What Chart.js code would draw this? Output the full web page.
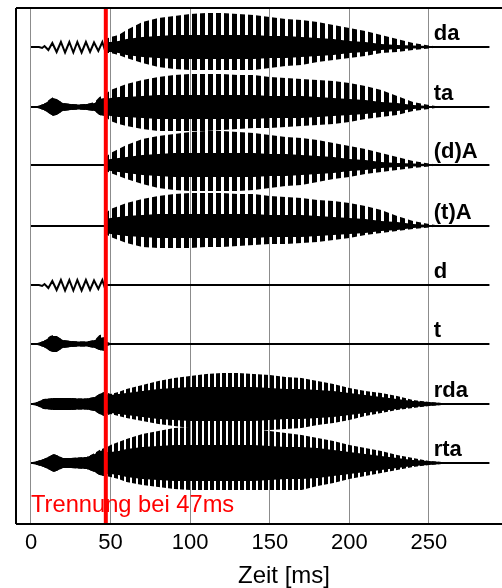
<!DOCTYPE html>
<html>
<head>
<meta charset="utf-8">
<script src="https://cdn.jsdelivr.net/npm/chart.js@4.4.0/dist/chart.umd.min.js"></script>
<style>
  html, body { margin: 0; padding: 0; background: #fff; overflow: hidden; }
  #wrap { width: 552px; height: 588px; }
</style>
</head>
<body>
<div id="wrap"><canvas id="waveChart" width="552" height="588"></canvas></div>
<script>
// trace names, top to bottom
const traceNames = ['da', 'ta', '(d)A', '(t)A', 'd', 't', 'rda', 'rta'];
const xTicks = [0, 50, 100, 150, 200, 250];
const cutTime = 47;

// small sinusoid before the cut (da and d share it), time in ms, amplitude
const wigT = [0, 5, 7, 8.5, 10.9, 13.4, 16.1, 18.8, 21.4, 24.1, 26.6, 29.1, 31.8, 34.5, 37.1, 39.6, 42.3, 44.8, 46.2, 47, 288];
const wigV = [0, 0, -1, 1, -3, 4, -5, 5, -5.5, 5, -5.5, 5, -5.5, 5, -5, 4.5, -4, 5, -2, 0, 0];

// envelope sample times (ms)
const envTime = [0, 4, 8, 12, 14, 16, 20, 25, 30, 35, 40, 43, 46, 47, 50, 55, 60, 70, 80, 90, 100, 110, 120, 130, 140, 150, 160, 170, 180, 190, 200, 210, 220, 230, 240, 250, 258, 288];

// upper / lower envelope and dense core
const daUp   = [0,0,0,0,0,0,0,0,0,0,0,0,0, 8,10,12,17,25,29,31,33,34,34,33,32,30,28,27,25,22,19,16,12,8,4,1.5,0,0];
const daDown = [0,0,0,0,0,0,0,0,0,0,0,0,0, 6,6,8,11,16,20,22,23,23,23,23,23,21,19,18,15,13,11,9,6,5,3,1.5,0,0];
const daCore = [0,0,0,0,0,0,0,0,0,0,0,0,0, 5,5,6,8,10,11,12,12,12,12,12,12,11,11,10,9,8,6,5,3,2,1.5,1,0,0];

const taUp   = [0,1,3,8,10,8,4,3,2.5,3,5,10,12, 13,17,20,23,27,30,32,33,33,33,32,32,30,29,28,27,26,24,21,17,11,5,2,0,0];
const taDown = [0,1,3,7,9,8,4,3,2.5,3,4,8,9, 10,14,17,19,22,24,24,24,24,23,22,21,21,20,19,18,17,15,12,10,8,4,2,0,0];
const taCore = [0,1,3,7,9,8,4,3,2.5,3,4,8,9, 8,9,10,10,11,12,12,12,12,12,12,12,11,11,11,10,9,8,7,5,4,2,1,0,0];

const dAUp   = [0,0,0,0,0,0,0,0,0,0,0,0,0, 8,12,16,20,26,29,31,33,34,34,33,32,30,28,27,25,22,19,16,12,8,4,1.5,0,0];
const dADown = [0,0,0,0,0,0,0,0,0,0,0,0,0, 6,8,11,14,19,23,25,26,26,26,26,25,23,21,20,17,14,12,9,7,5,3,1.5,0,0];
const dACore = [0,0,0,0,0,0,0,0,0,0,0,0,0, 5,6,7,8,10,11,12,12,12,12,12,12,11,11,10,9,8,6,5,3,2,1.5,1,0,0];

const tAUp   = [0,0,0,0,0,0,0,0,0,0,0,0,0, 13,17,20,23,27,30,32,33,33,33,32,32,30,29,28,26,25,23,20,16,10,5,2,0,0];
const tADown = [0,0,0,0,0,0,0,0,0,0,0,0,0, 8,11,14,17,21,22,22,22,21,21,20,19,18,18,17,16,14,12,9,7,5,3,1.5,0,0];
const tACore = [0,0,0,0,0,0,0,0,0,0,0,0,0, 7,8,9,10,11,12,12,12,12,12,12,12,11,11,11,10,9,8,7,5,4,2,1,0,0];

const tUp    = [0,1,3,8,9,8,4,3,2.5,2.5,4,9,10, 2,1,0,0,0,0,0,0,0,0,0,0,0,0,0,0,0,0,0,0,0,0,0,0,0];
const tDown  = [0,1,3,7,8,8,4,3,2.5,2.5,4,6,7, 2,1,0,0,0,0,0,0,0,0,0,0,0,0,0,0,0,0,0,0,0,0,0,0,0];

const rdaUp   = [0.5,2,5,5.5,6,6,6,6,5.5,5.5,7,10,12, 12,10,12,15,19,23,26,28,30,31,31,30,29,27,26,23,20,16,13,11,8,4,2,1,0];
const rdaDown = [0.5,2,5,5.5,6,6,6,6,5.5,5.5,7,10,12, 12,10,12,14,17,20,22,24,25,26,26,26,26,25,24,21,19,16,12,9,6,4,2,1,0];
const rdaCore = [0.5,2,5,5.5,6,6,6,6,5.5,5.5,7,10,12, 10,9,10,11,13,15,16,17,17,17,17,17,16,15,15,14,13,11,9,7,5,3,2,1,0];

const rtaUp   = [0.5,2,4,7,9,8,5,5,5.5,6,10,13,15, 15,18,21,24,29,32,35,36,36,36,35,34,32,30,28,25,22,18,15,12,8,5,2,1,0];
const rtaDown = [0.5,2,4,7,9,8,5,5,5.5,6,9,12,13, 13,14,16,19,22,24,26,27,27,27,27,27,27,27,27,23,20,16,13,10,7,4,2,1,0];
const rtaCore = [0.5,2,4,7,9,8,5,5,5.5,6,9,12,13, 11,11,12,14,16,17,18,18,18,18,18,18,17,16,16,15,13,11,9,7,5,3,2,1,0];

const bands = [
  [daUp, daDown, daCore],
  [taUp, taDown, taCore],
  [dAUp, dADown, dACore],
  [tAUp, tADown, tACore],
  null,
  [tUp, tDown, tDown],
  [rdaUp, rdaDown, rdaCore],
  [rtaUp, rtaDown, rtaCore]
];
const wiggleTraces = [0, 4];

// layout: y axis is in pixels of the plot, each trace sits on its own baseline
const traceOffset = [477, 417, 359, 298, 239, 180, 120, 61];
const FONT = "'Liberation Sans', Arial, sans-serif";

const canvas = document.getElementById('waveChart');
const ctx = canvas.getContext('2d');

function makeStripes(period, w) {
    const c = document.createElement('canvas');
    c.width = period;
    c.height = 4;
    const g = c.getContext('2d');
    g.fillStyle = '#000';
    g.fillRect(0, 0, w, 4);
    return ctx.createPattern(c, 'repeat');
}
const wideStripes = makeStripes(8, 5);
const fineStripes = makeStripes(6, 4);

const none = 'rgba(0,0,0,0)';
const datasets = [];

// red separation line on top
datasets.push({
    data: [{ x: cutTime, y: -5 }, { x: cutTime, y: 525 }],
    borderColor: '#ff0000',
    borderWidth: 4,
    fill: false
});

traceNames.forEach((name, i) => {
    const base = traceOffset[i];
    let lineData;
    if (wiggleTraces.includes(i)) {
        lineData = wigT.map((t, k) => ({ x: t, y: base + wigV[k] }));
    } else {
        lineData = [{ x: 0, y: base }, { x: 288, y: base }];
    }
    datasets.push({ data: lineData, borderColor: '#000', borderWidth: 2, fill: false });

    const b = bands[i];
    if (!b) return;
    const [up, down, core] = b;
    const pattern = i >= 6 ? fineStripes : wideStripes;
    datasets.push({
        data: envTime.map((t, k) => ({ x: t, y: base + core[k] })),
        borderColor: none, borderWidth: 1, fill: '+1', backgroundColor: '#000'
    });
    datasets.push({
        data: envTime.map((t, k) => ({ x: t, y: base - core[k] })),
        borderColor: none, borderWidth: 1, fill: false
    });
    datasets.push({
        data: envTime.map((t, k) => ({ x: t, y: base + up[k] })),
        borderColor: none, borderWidth: 1, fill: '+1', backgroundColor: pattern
    });
    datasets.push({
        data: envTime.map((t, k) => ({ x: t, y: base - down[k] })),
        borderColor: none, borderWidth: 1, fill: false
    });
});

const framePlugin = {
    id: 'frame',
    afterDraw(chart) {
        const { ctx, chartArea: a, scales } = chart;
        ctx.save();
        ctx.strokeStyle = '#000';
        ctx.lineWidth = 2;
        ctx.beginPath();
        ctx.moveTo(a.left, a.top);
        ctx.lineTo(a.left, a.bottom);
        ctx.moveTo(a.left, a.top);
        ctx.lineTo(a.right, a.top);
        ctx.moveTo(a.left, a.bottom);
        ctx.lineTo(a.right, a.bottom);
        ctx.stroke();

        // trace names
        ctx.fillStyle = '#000';
        ctx.font = 'bold 22px ' + FONT;
        ctx.textAlign = 'left';
        ctx.textBaseline = 'alphabetic';
        traceNames.forEach((name, i) => {
            ctx.fillText(name, scales.x.getPixelForValue(253), scales.y.getPixelForValue(traceOffset[i] + 7.5));
        });

        ctx.fillStyle = '#ff0000';
        ctx.font = '23.7px ' + FONT;
        ctx.fillText('Trennung bei ' + cutTime + 'ms', scales.x.getPixelForValue(0), 512);
        ctx.restore();
    }
};

new Chart(ctx, {
    type: 'line',
    data: { datasets: datasets },
    options: {
        responsive: false,
        animation: false,
        events: [],
        layout: { padding: { top: 8, left: 16, right: 0, bottom: 0 } },
        elements: { point: { radius: 0 }, line: { tension: 0 } },
        plugins: { legend: { display: false }, tooltip: { enabled: false } },
        scales: {
            x: {
                type: 'linear',
                bounds: 'data',
                min: -9.42,
                max: 327.3,
                afterFit: (s) => { s.height = 64; },
                afterBuildTicks: (s) => { s.ticks = xTicks.map(v => ({ value: v })); },
                grid: { color: '#8c8c8c', lineWidth: 1, drawTicks: false },
                border: { display: false },
                ticks: { color: '#000', font: { family: FONT, size: 22 }, padding: 6, maxRotation: 0 },
                title: {
                    display: true,
                    text: 'Zeit [ms]',
                    color: '#000',
                    font: { family: FONT, size: 24, lineHeight: 1 },
                    padding: { top: 0, bottom: 0 }
                }
            },
            y: { display: false, min: 0, max: 516 }
        }
    },
    plugins: [framePlugin]
});
</script>
</body>
</html>
